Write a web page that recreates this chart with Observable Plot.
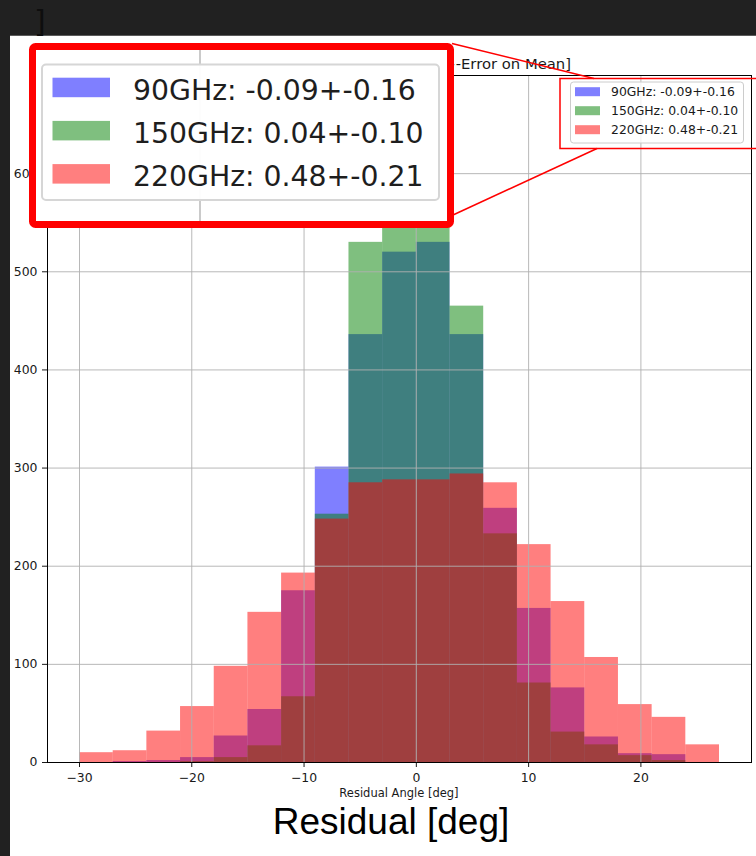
<!DOCTYPE html>
<html>
<head>
<meta charset="utf-8">
<script src="https://cdn.jsdelivr.net/npm/d3@7"></script>
<script src="https://cdn.jsdelivr.net/npm/@observablehq/plot@0.6"></script>
<style>
html, body { margin: 0; padding: 0; background: #212121; width: 756px; height: 856px; overflow: hidden; }
#paper { position: absolute; left: 10px; top: 35px; width: 746px; height: 821px; background: #ffffff; border-top: 1px solid #5a5a5a; box-sizing: border-box; }
#bracket { position: absolute; left: 34px; top: 4px; font: 30px "DejaVu Sans", sans-serif; color: #0e0e0e; }
#chart { position: absolute; left: 0; top: 0; }
</style>
</head>
<body>
<div id="paper"></div>
<div id="bracket">]</div>
<div id="chart"></div>
<script>
// ---- data ----
const binStarts = [-30, -27, -24, -21, -18, -15, -12, -9, -6, -3, 0, 3, 6, 9, 12, 15, 18, 21, 24];
const binWidth = 3;
const counts90 = [0, 1, 2, 5, 27, 54, 175, 301, 436, 520, 530, 436, 259, 157, 76, 26, 9, 8, 0];
const counts150 = [0, 0, 0, 1, 5, 17, 67, 253, 530, 668, 615, 465, 233, 81, 31, 18, 7, 2, 0];
const counts220 = [10, 12, 32, 57, 98, 153, 193, 248, 285, 288, 288, 294, 285, 222, 164, 107, 59, 46, 18];
const seriesNames = ["90GHz", "150GHz", "220GHz"];
const seriesColors = ["#0000ff", "#008000", "#ff0000"];
const legendLabels = ["90GHz: -0.09+-0.16", "150GHz: 0.04+-0.10", "220GHz: 0.48+-0.21"];
const xTicks = [-30, -20, -10, 0, 10, 20];
const yTicks = [0, 100, 200, 300, 400, 500, 600];
const titleText = "Residual Angle [Mean+-Error on Mean]";
const xLabel = "Residual Angle [deg]";
const bigLabel = "Residual [deg]";

const allCounts = [counts90, counts150, counts220];
const rows = allCounts.map((c, k) => binStarts.map((b, i) => ({x1: b, x2: b + binWidth, y: c[i], series: seriesNames[k]})));

const fmt = d => d < 0 ? "\u2212" + (-d) : String(d);

const chart = Plot.plot({
  width: 756,
  height: 856,
  marginLeft: 47,
  marginRight: 5,
  marginTop: 75,
  marginBottom: 94,
  style: {background: "transparent", fontFamily: "DejaVu Sans, sans-serif", fontSize: "12.4px", color: "#1a1a1a", overflow: "visible"},
  x: {domain: [-32.85, 29.85], ticks: xTicks, tickFormat: fmt, tickSize: 5, tickPadding: 6, label: null},
  y: {domain: [0, 700], ticks: yTicks, tickSize: 5, tickPadding: 5, label: null},
  marks: [
    ...rows.map((r, k) => Plot.rectY(r, {x1: "x1", x2: "x2", y: "y", fill: seriesColors[k], fillOpacity: 0.5, inset: 0})),
    Plot.ruleX(xTicks, {stroke: "#b0b0b0", strokeWidth: 0.9}),
    Plot.ruleY(yTicks.filter(d => d > 0), {stroke: "#b0b0b0", strokeWidth: 0.9}),
    Plot.frame({stroke: "#000", strokeWidth: 1})
  ]
});
document.getElementById("chart").appendChild(chart);

const svg = d3.select(chart);
const ff = "DejaVu Sans, sans-serif";
const legendFill = ["#7f7fff", "#7fbf7f", "#ff7f7f"];

// title (partly covered by the zoom box)
svg.append("text").attr("x", 571).attr("y", 69).attr("text-anchor", "end")
  .attr("font-family", ff).attr("font-size", 14.8).attr("fill", "#1a1a1a").text(titleText);

// x axis label
svg.append("text").attr("x", 399).attr("y", 797).attr("text-anchor", "middle")
  .attr("font-family", ff).attr("font-size", 11.5).attr("fill", "#1a1a1a").text(xLabel);

// big label
svg.append("text").attr("x", 391).attr("y", 834).attr("text-anchor", "middle")
  .attr("font-family", "Liberation Sans, Arial, sans-serif").attr("font-size", 37).attr("fill", "#000").text(bigLabel);

// small legend inside axes
svg.append("rect").attr("x", 570.5).attr("y", 82).attr("width", 173).attr("height", 61).attr("rx", 3)
  .attr("fill", "#fff").attr("fill-opacity", 0.8).attr("stroke", "#cccccc");
legendLabels.forEach((t, i) => {
  const cy = 91.7 + i * 19;
  svg.append("rect").attr("x", 575).attr("y", cy - 4.5).attr("width", 25).attr("height", 9).attr("fill", legendFill[i]);
  svg.append("text").attr("x", 611).attr("y", cy + 4.3).attr("text-anchor", "start")
    .attr("font-family", ff).attr("font-size", 12.4).attr("fill", "#1a1a1a").text(t);
});
// red highlight around small legend
svg.append("rect").attr("x", 560).attr("y", 78.5).attr("width", 240).attr("height", 70)
  .attr("fill", "none").attr("stroke", "#ff0000").attr("stroke-width", 1.5);
// connector lines
svg.append("line").attr("x1", 452).attr("y1", 43.5).attr("x2", 594).attr("y2", 78.5).attr("stroke", "#ff0000").attr("stroke-width", 1.5);
svg.append("line").attr("x1", 453).attr("y1", 215).attr("x2", 597).attr("y2", 148.5).attr("stroke", "#ff0000").attr("stroke-width", 1.5);

// zoom box with magnified legend
svg.append("rect").attr("x", 32.5).attr("y", 46.5).attr("width", 418).attr("height", 178).attr("rx", 3)
  .attr("fill", "#fff").attr("stroke", "#ff0000").attr("stroke-width", 7);
svg.append("line").attr("x1", 200).attr("y1", 50).attr("x2", 200).attr("y2", 221).attr("stroke", "#b8b8b8").attr("stroke-width", 1.5);
svg.append("rect").attr("x", 42).attr("y", 64.5).attr("width", 397).attr("height", 135.5).attr("rx", 4)
  .attr("fill", "#fff").attr("fill-opacity", 0.95).attr("stroke", "#d6d6d6").attr("stroke-width", 2);
legendLabels.forEach((t, i) => {
  const top = 77.7 + i * 43.2;
  svg.append("rect").attr("x", 52.5).attr("y", top).attr("width", 57.5).attr("height", 19.5).attr("fill", legendFill[i]);
  svg.append("text").attr("x", 133).attr("y", 100 + i * 43.2).attr("text-anchor", "start")
    .attr("font-family", ff).attr("font-size", 28.3).attr("fill", "#1e1e1e").text(t);
});
</script>
</body>
</html>
